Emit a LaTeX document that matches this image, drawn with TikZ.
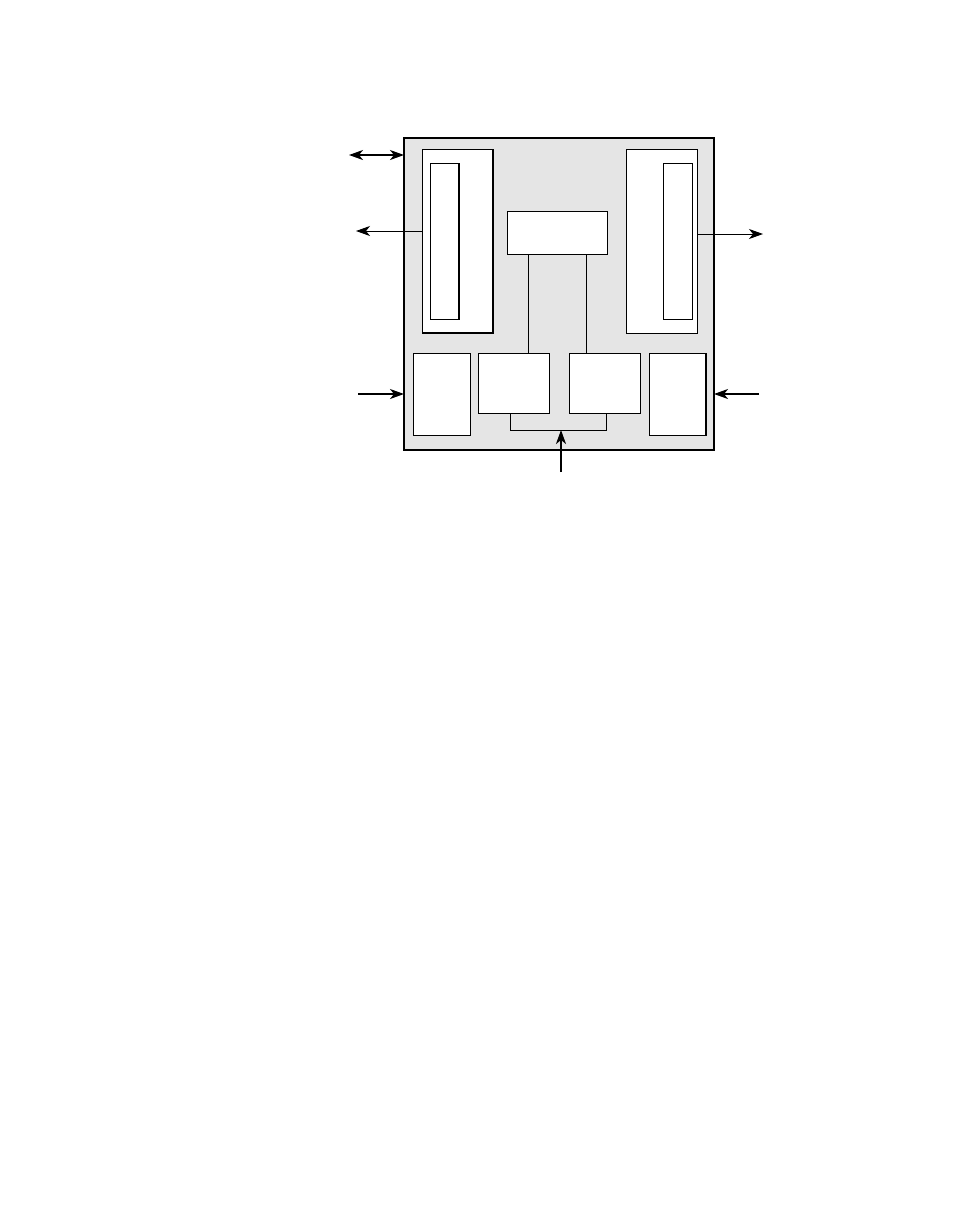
\documentclass[tikz,border=0pt]{standalone}
\usetikzlibrary{arrows.meta}
\definecolor{panelgray}{HTML}{E5E5E5}
\begin{document}
\begin{tikzpicture}[x=1pt,y=-1pt,
  box/.style={draw,fill=white,line width=0.9pt,inner sep=0pt,outer sep=0pt,anchor=north west},
  shade/.style={line width=1.8pt},
  arrthin/.style={-{Stealth[length=14pt,width=10pt,inset=4pt]},line width=0.9pt},
  arrthick/.style={-{Stealth[length=14pt,width=10pt,inset=4pt]},line width=1.6pt},
  arrboth/.style={{Stealth[length=14pt,width=10pt,inset=4pt]}-{Stealth[length=14pt,width=10pt,inset=4pt]},line width=1.6pt},
  wire/.style={line width=0.8pt}]
\useasboundingbox (0,0) rectangle (954,1227);
\node[draw,fill=panelgray,line width=1.8pt,inner sep=0pt,outer sep=0pt,anchor=north west,minimum width=310pt,minimum height=312pt] (outer) at (404,138) {};
% left panel
\node[box,minimum width=71pt,minimum height=184pt] (lp) at (422,149) {};
\draw[shade] (lp.north east) -- (lp.south east) -- (lp.south west);
\node[box,minimum width=29pt,minimum height=156pt] (li) at (430,163) {};
\draw[shade] (li.north east) -- (li.south east);
% right panel
\node[box,minimum width=71pt,minimum height=184pt] (rp) at (626,149) {};
\node[box,minimum width=29pt,minimum height=156pt] (ri) at (663,163) {};
% top center box
\node[box,minimum width=100pt,minimum height=43pt] (top) at (507,211) {};
% bottom row
\node[box,minimum width=57pt,minimum height=82pt] (b1) at (413,353) {};
\node[box,minimum width=71pt,minimum height=60pt] (b2) at (478,353) {};
\node[box,minimum width=71pt,minimum height=60pt] (b3) at (569,353) {};
\node[box,minimum width=57pt,minimum height=82pt] (b4) at (649,353) {};
\draw[shade] (b4.north east) -- (b4.south east);
% wires
\coordinate (xl) at (528,0);
\coordinate (xr) at (586,0);
\draw[wire] (top.south -| xl) -- (b2.north -| xl);
\draw[wire] (top.south -| xr) -- (b3.north -| xr);
\coordinate (bl) at (510,0);
\coordinate (br) at (606,0);
\coordinate (bk) at (561,430);
\draw[wire] (b2.south -| bl) -- (bl |- bk) -- (br |- bk) -- (b3.south -| br);
% arrows
\coordinate (upstart) at (561,472);
\draw[arrthick] (upstart) -- (bk);
\coordinate (inL) at (358,394);
\draw[arrthick] (inL) -- (inL -| outer.west);
\coordinate (inR) at (759,394);
\draw[arrthick] (inR) -- (inR -| outer.east);
\coordinate (outL) at (356,231);
\draw[arrthin] (outL -| lp.west) -- (outL);
\coordinate (outR) at (763,234);
\draw[arrthin] (outR -| rp.east) -- (outR);
\coordinate (bidi) at (349,155);
\draw[arrboth] (bidi) -- (bidi -| outer.west);
\end{tikzpicture}
\end{document}
